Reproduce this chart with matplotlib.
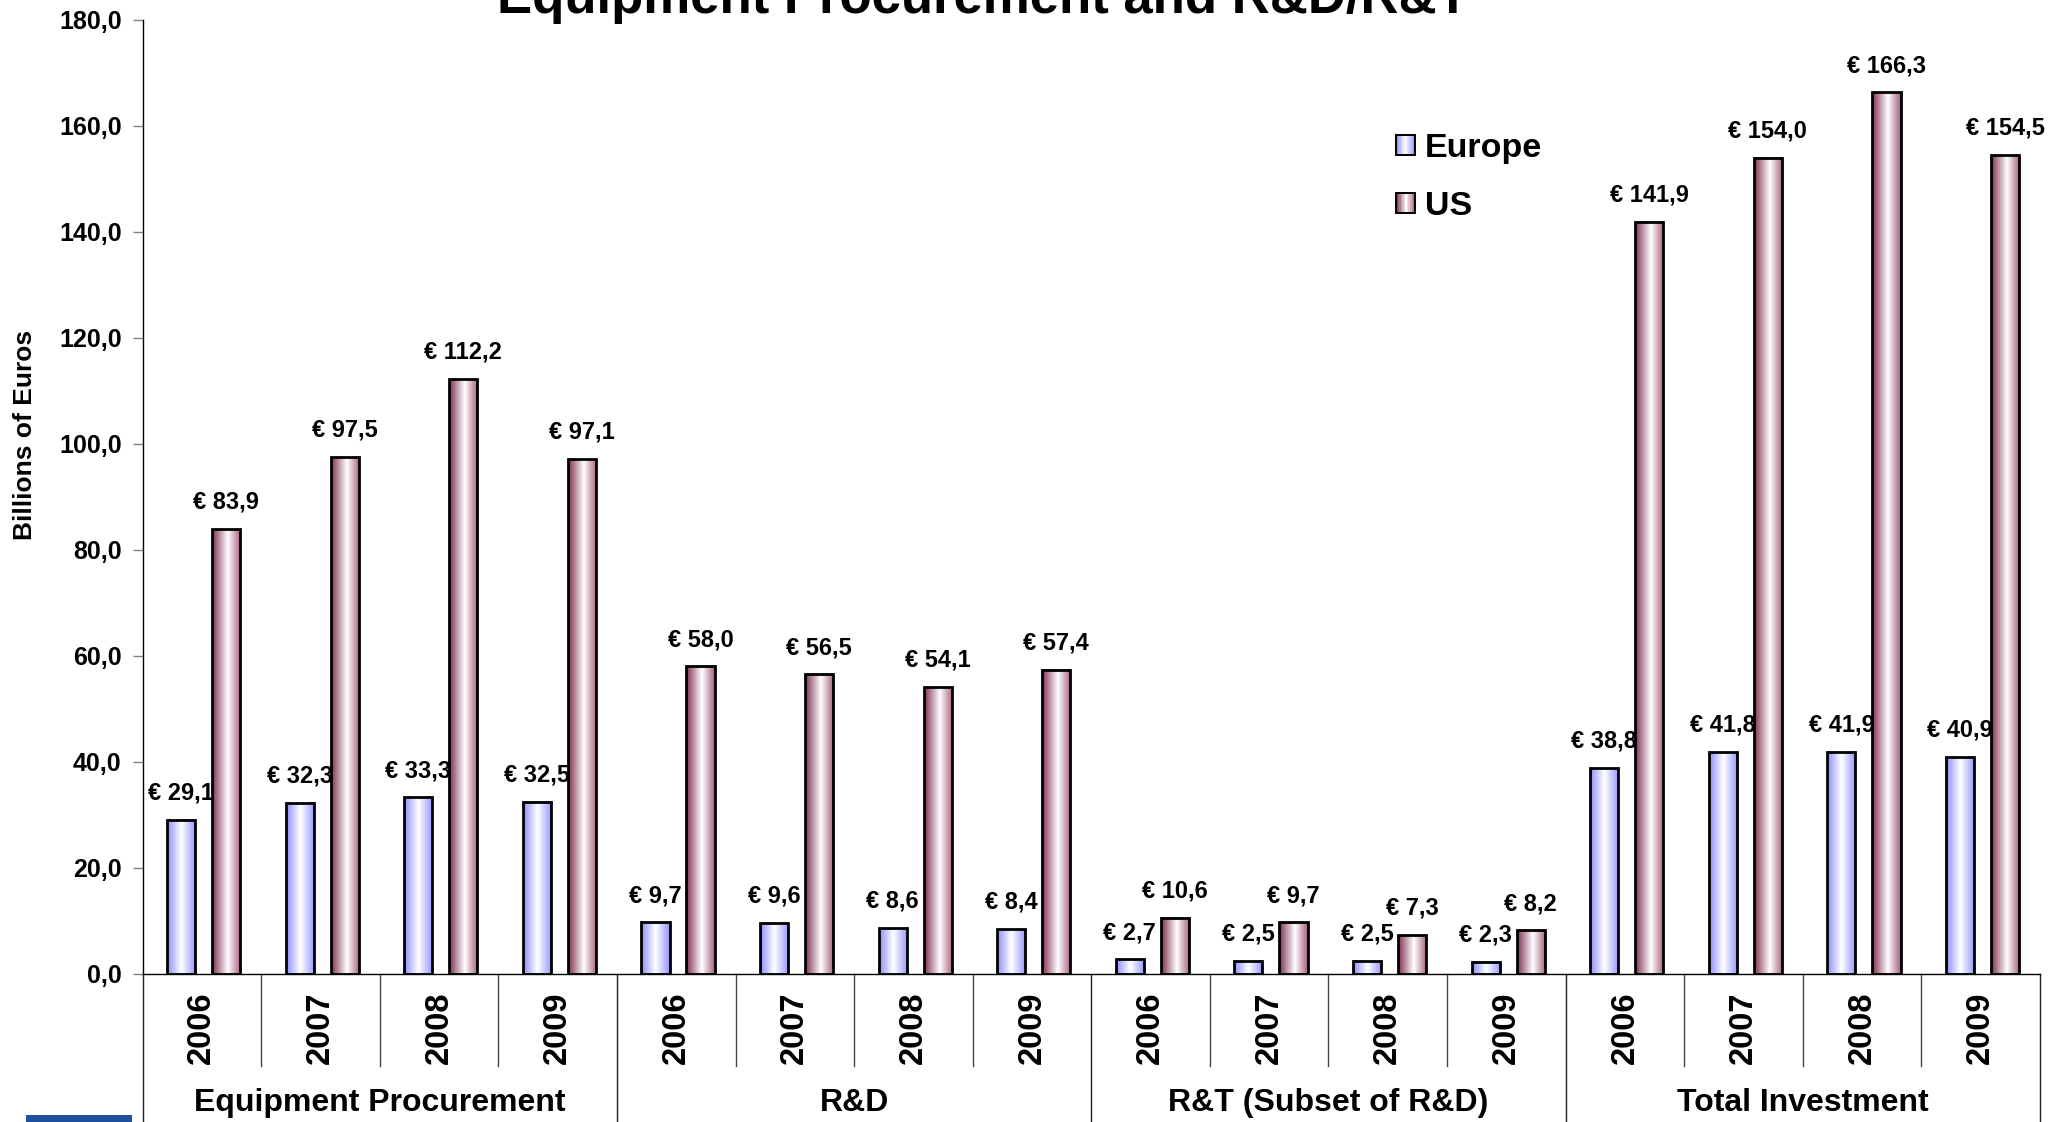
import numpy as np
import matplotlib
matplotlib.use('Agg')
import matplotlib.pyplot as plt
from matplotlib.colors import LinearSegmentedColormap
from matplotlib.legend_handler import HandlerBase
from matplotlib.patches import Rectangle, Patch
import matplotlib.transforms as mtransforms

# datos (miles de millones de euros)
grupos = ['Equipment Procurement', 'R&D', 'R&T (Subset of R&D)', 'Total Investment']
anios = ['2006', '2007', '2008', '2009']
europa = [29.1, 32.3, 33.3, 32.5, 9.7, 9.6, 8.6, 8.4, 2.7, 2.5, 2.5, 2.3, 38.8, 41.8, 41.9, 40.9]
eeuu = [83.9, 97.5, 112.2, 97.1, 58.0, 56.5, 54.1, 57.4, 10.6, 9.7, 7.3, 8.2, 141.9, 154.0, 166.3, 154.5]
yticks = np.arange(0, 181, 20)

plt.rcParams['font.family'] = ['Liberation Sans', 'DejaVu Sans']
plt.rcParams['font.weight'] = 'bold'

cmap_eu = LinearSegmentedColormap.from_list('eu', [(0, '#8c8cff'), (0.5, '#ffffff'), (1, '#9494ff')])
cmap_us = LinearSegmentedColormap.from_list('us', [(0, '#7d2d50'), (0.55, '#ffffff'), (1, '#a55f7e')])
grad = np.linspace(0, 1, 256).reshape(1, -1)

fig = plt.figure(figsize=(20.69, 11.22), dpi=100)
ax = fig.add_axes([0.0689, 0.1321, 0.9171, 0.8503])

n = len(europa)
x = np.arange(n) + 0.5
ancho = 0.237
barras_eu = ax.bar(x - 0.175, europa, ancho, facecolor='none', edgecolor='black', linewidth=2, zorder=3)
barras_us = ax.bar(x + 0.205, eeuu, ancho, facecolor='none', edgecolor='black', linewidth=2, zorder=3)

# relleno degradado de cada barra
for barras, cm in [(barras_eu, cmap_eu), (barras_us, cmap_us)]:
    for b in barras:
        x0, w, h = b.get_x(), b.get_width(), b.get_height()
        ax.imshow(grad, cmap=cm, extent=[x0, x0 + w, 0, h], aspect='auto', zorder=2, interpolation='bilinear')

def fmt(v):
    return '€ ' + f'{v:.1f}'.replace('.', ',')

for barras, vals in [(barras_eu, europa), (barras_us, eeuu)]:
    for b, v in zip(barras, vals):
        ax.annotate(fmt(v), (b.get_x() + b.get_width() / 2, v), xytext=(0, 11),
                    textcoords='offset points', ha='center', va='bottom',
                    fontsize=17, fontweight='bold')

ax.set_xlim(0, n)
ax.set_ylim(0, 180)
ax.set_yticks(yticks)
ax.set_yticklabels([f'{t:.1f}'.replace('.', ',') for t in yticks], fontsize=18, fontweight='bold')
ax.tick_params(axis='y', direction='out', length=7, color='#808080', width=1, pad=8)
ax.tick_params(axis='x', length=0, labelbottom=False)
for s in ['top', 'right']:
    ax.spines[s].set_visible(False)
ax.spines['left'].set_linewidth(1.0)
ax.spines['bottom'].set_linewidth(1.0)

# etiquetas del eje x en dos niveles
tr = mtransforms.blended_transform_factory(ax.transData, fig.transFigure)
y_eje = 0.1321
y_sep = 1 - 1066 / 1122
for i in range(n):
    ax.text(x[i], 1 - 1028 / 1122, anios[i % 4], transform=tr, rotation=90,
            ha='center', va='center', fontsize=23.5, fontweight='bold')
for i in range(n + 1):
    if i % 4 == 0:
        ax.plot([i, i], [0, y_eje], transform=tr, color='#222222', lw=1.0, clip_on=False)
    else:
        ax.plot([i, i], [y_sep, y_eje], transform=tr, color='#444444', lw=1.0, clip_on=False)
for g, nombre in enumerate(grupos):
    ax.text(g * 4 + 2, 1 - 1103 / 1122, nombre, transform=tr, ha='center', va='center',
            fontsize=23, fontweight='bold')

fig.text(25 / 2069, 1 - 435 / 1122, 'Billions of Euros', rotation=90, ha='center', va='center',
         fontsize=19, fontweight='bold')
fig.text(983 / 2069, 1 - 13 / 1122, 'Equipment Procurement and R&D/R&T', ha='center',
         va='baseline', fontsize=38, fontweight='bold')

# rectangulo azul abajo a la izquierda
fig.patches.append(Rectangle((26 / 2069, 0), 106 / 2069, 7 / 1122, transform=fig.transFigure,
                             facecolor='#1f4f9f', edgecolor='none'))


class HandlerDegradado(HandlerBase):
    def __init__(self, cm):
        super().__init__()
        self.cm = cm

    def create_artists(self, legend, orig_handle, xdescent, ydescent, width, height, fontsize, trans):
        arts = []
        k = 12
        for j in range(k):
            c = self.cm((j + 0.5) / k)
            arts.append(Rectangle((-xdescent + j * width / k, -ydescent), width / k + 0.3, height,
                                  facecolor=c, edgecolor='none', transform=trans))
        arts.append(Rectangle((-xdescent, -ydescent), width, height, facecolor='none',
                              edgecolor='black', lw=1.4, transform=trans))
        return arts


h_eu = Patch(label='Europe')
h_us = Patch(label='US')
fig.legend(handles=[h_eu, h_us], handler_map={h_eu: HandlerDegradado(cmap_eu), h_us: HandlerDegradado(cmap_us)},
           loc='upper left', bbox_to_anchor=(1396 / 2069, 1 - 133 / 1122), frameon=False,
           prop={'size': 24.5, 'weight': 'bold'}, handlelength=0.55, handleheight=0.55,
           handletextpad=0.3, labelspacing=0.8, borderpad=0, borderaxespad=0)

fig.savefig('out.png', dpi=100)
